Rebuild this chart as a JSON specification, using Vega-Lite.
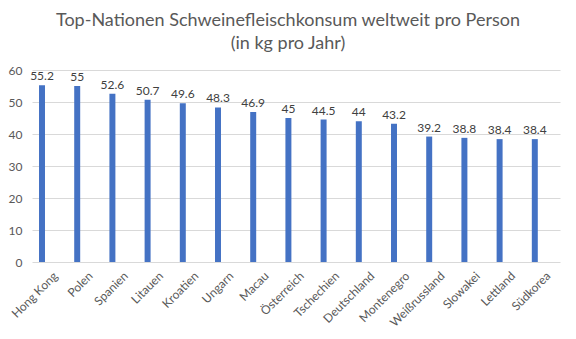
{
  "$schema": "https://vega.github.io/schema/vega-lite/v6.json",
  "width": 528,
  "height": 192,
  "autosize": {"type": "none"},
  "padding": {"left": 32, "top": 70, "right": 16, "bottom": 77},
  "background": "white",
  "title": {
    "text": ["Top-Nationen Schweinefleischkonsum weltweit pro Person", "(in kg pro Jahr)"],
    "anchor": "middle",
    "frame": "group",
    "dx": -8,
    "offset": 11,
    "font": "Lato",
    "fontSize": 18,
    "fontWeight": "normal",
    "color": "#595959",
    "lineHeight": 23
  },
  "data": {
    "values": [
      {"land": "Hong Kong", "wert": 55.2},
      {"land": "Polen", "wert": 55},
      {"land": "Spanien", "wert": 52.6},
      {"land": "Litauen", "wert": 50.7},
      {"land": "Kroatien", "wert": 49.6},
      {"land": "Ungarn", "wert": 48.3},
      {"land": "Macau", "wert": 46.9},
      {"land": "Österreich", "wert": 45},
      {"land": "Tschechien", "wert": 44.5},
      {"land": "Deutschland", "wert": 44},
      {"land": "Montenegro", "wert": 43.2},
      {"land": "Weißrussland", "wert": 39.2},
      {"land": "Slowakei", "wert": 38.8},
      {"land": "Lettland", "wert": 38.4},
      {"land": "Südkorea", "wert": 38.4}
    ]
  },
  "encoding": {
    "x": {
      "field": "land",
      "type": "nominal",
      "sort": null,
      "scale": {"paddingInner": 0.83, "paddingOuter": 0.415, "align": 0.24},
      "axis": {
        "title": null,
        "labelAngle": -45,
        "labelFont": "Lato",
        "labelFontSize": 12,
        "labelColor": "#595959",
        "ticks": false,
        "domain": false,
        "labelPadding": 8,
        "labelOffset": 10
      }
    },
    "y": {
      "field": "wert",
      "type": "quantitative",
      "scale": {"domain": [0, 60]},
      "axis": {
        "title": null,
        "values": [0, 10, 20, 30, 40, 50, 60],
        "grid": true,
        "gridColor": "#d9d9d9",
        "domain": false,
        "ticks": false,
        "labelFont": "Lato",
        "labelFontSize": 12,
        "labelColor": "#595959",
        "labelPadding": 10
      }
    }
  },
  "layer": [
    {"mark": {"type": "bar", "color": "#4472C4"}},
    {
      "mark": {"type": "text", "dy": -9, "font": "Lato", "fontSize": 12, "color": "#404040"},
      "encoding": {"text": {"field": "wert", "type": "quantitative"}}
    }
  ],
  "config": {"view": {"stroke": null}}
}
